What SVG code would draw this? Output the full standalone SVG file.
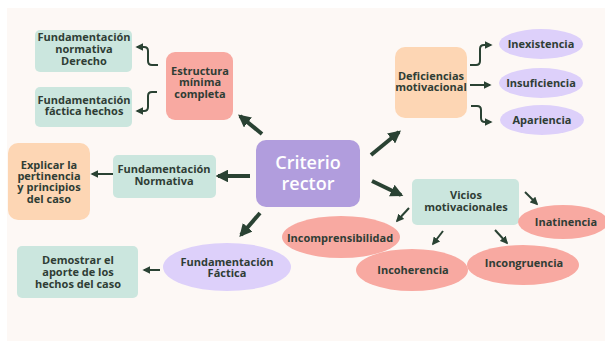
<svg xmlns="http://www.w3.org/2000/svg" width="605" height="343" viewBox="0 0 605 343">
<defs>
<marker id="ah" viewBox="0 0 10 10" refX="8" refY="5" markerWidth="3.2" markerHeight="3.2" orient="auto" markerUnits="strokeWidth"><path d="M0,0 L10,5 L0,10 Z" fill="#2a4233"/></marker>
<marker id="as" viewBox="0 0 10 10" refX="8" refY="5" markerWidth="4" markerHeight="4" orient="auto" markerUnits="strokeWidth"><path d="M0,0 L10,5 L0,10 Z" fill="#2a4233"/></marker>
<style>
.t{font-family:"Open Sans","Liberation Sans",sans-serif;font-weight:700;font-size:11px;fill:#2f3d35;text-anchor:middle}
.w{font-family:"Open Sans","Liberation Sans",sans-serif;font-weight:600;font-size:18px;fill:#ffffff;text-anchor:middle}
.teal{fill:#cbe6de}
.pink{fill:#f8a9a1}
.orange{fill:#fdd6b4}
.lav{fill:#ddd0fa}
.thick{stroke:#2a4233;stroke-width:4;fill:none;marker-end:url(#ah)}
.thin{stroke:#2a4233;stroke-width:2;fill:none;marker-end:url(#as)}
</style>
</defs>
<rect x="0" y="0" width="605" height="343" fill="#ffffff"/>
<rect x="7" y="8" width="598" height="333" fill="#fdf8f5"/>

<g id="connectors">
<path class="thick" d="M262,134 L240,116"/>
<path class="thick" d="M371,155 L399,132"/>
<path class="thick" d="M250,176 L218,176"/>
<path class="thick" d="M260,213 L241,235"/>
<path class="thick" d="M372,181 L401,195"/>
<path class="thin" d="M118,174 L92,174"/>
<path class="thin" d="M160,270 L144,270"/>
<path class="thin" d="M158,65 L152,65 Q148,65 148,61 L148,51 Q148,47 144,47 L137,47"/>
<path class="thin" d="M157,92 L152,92 Q148,92 148,96 L148,107 Q148,111 144,111 L137,111"/>
<path class="thin" d="M470,65 L476,65 Q480,65 480,61 L480,49 Q480,45 484,45 L491,45"/>
<path class="thin" d="M470,85 L490,85"/>
<path class="thin" d="M471,106 L477,106 Q481,106 481,110 L481,118 Q481,122 485,122 L491,122"/>
<path class="thin" d="M409,208 L397,221"/>
<path class="thin" d="M443,231 L433,244"/>
<path class="thin" d="M495,230 L507,243"/>
<path class="thin" d="M525,192 L537,204"/>
</g>

<g id="criterio">
<rect x="256" y="140" width="104" height="67" rx="10" fill="#b19ddd"/>
<text class="w" x="308" y="169">Criterio</text>
<text class="w" x="308" y="190">rector</text>
</g>

<g id="estructura">
<rect x="166" y="52" width="67" height="68" rx="9" class="pink"/>
<text class="t" x="200" y="75">Estructura</text>
<text class="t" x="200" y="86">mínima</text>
<text class="t" x="200" y="98">completa</text>
</g>

<g id="fund-normativa-derecho">
<rect x="35" y="30" width="97" height="42" rx="5" class="teal"/>
<text class="t" x="84" y="41">Fundamentación</text>
<text class="t" x="84" y="53">normativa</text>
<text class="t" x="84" y="65">Derecho</text>
</g>

<g id="fund-factica-hechos">
<rect x="35" y="87" width="97" height="40" rx="5" class="teal"/>
<text class="t" x="84" y="104">Fundamentación</text>
<text class="t" x="84" y="115">fáctica hechos</text>
</g>

<g id="explicar">
<rect x="8" y="143" width="82" height="77" rx="10" class="orange"/>
<text class="t" x="49" y="169">Explicar la</text>
<text class="t" x="49" y="180">pertinencia</text>
<text class="t" x="49" y="191">y principios</text>
<text class="t" x="49" y="203">del caso</text>
</g>

<g id="fund-normativa">
<rect x="113" y="155" width="103" height="43" rx="5" class="teal"/>
<text class="t" x="164" y="173">Fundamentación</text>
<text class="t" x="164" y="185">Normativa</text>
</g>

<g id="demostrar">
<rect x="17" y="246" width="121" height="52" rx="5" class="teal"/>
<text class="t" x="78" y="264">Demostrar el</text>
<text class="t" x="78" y="276">aporte de los</text>
<text class="t" x="78" y="288">hechos del caso</text>
</g>

<g id="fund-factica">
<ellipse cx="227" cy="267" rx="64" ry="24" class="lav"/>
<text class="t" x="227" y="266">Fundamentación</text>
<text class="t" x="227" y="277">Fáctica</text>
</g>

<g id="deficiencias">
<rect x="395" y="47" width="72" height="71" rx="10" class="orange"/>
<text class="t" x="431" y="80">Deficiencias</text>
<text class="t" x="431" y="91">motivacional</text>
</g>

<g id="inexistencia">
<ellipse cx="541" cy="44" rx="42" ry="15" class="lav"/>
<text class="t" x="541" y="48">Inexistencia</text>
</g>
<g id="insuficiencia">
<ellipse cx="541" cy="83" rx="42" ry="15" class="lav"/>
<text class="t" x="541" y="87">Insuficiencia</text>
</g>
<g id="apariencia">
<ellipse cx="542" cy="120" rx="42" ry="15" class="lav"/>
<text class="t" x="542" y="124">Apariencia</text>
</g>

<g id="vicios">
<rect x="412" y="179" width="107" height="46" rx="5" class="teal"/>
<text class="t" x="466" y="199">Vicios</text>
<text class="t" x="466" y="211">motivacionales</text>
</g>

<g id="inatinencia">
<ellipse cx="563" cy="222" rx="45" ry="17" class="pink"/>
<text class="t" x="566" y="226">Inatinencia</text>
</g>
<g id="incomprensibilidad">
<ellipse cx="341" cy="237" rx="59" ry="21" class="pink"/>
<text class="t" x="340" y="242">Incomprensibilidad</text>
</g>
<g id="incoherencia">
<ellipse cx="412" cy="270" rx="56" ry="21" class="pink"/>
<text class="t" x="413" y="274">Incoherencia</text>
</g>
<g id="incongruencia">
<ellipse cx="523" cy="265" rx="56" ry="20" class="pink"/>
<text class="t" x="524" y="267">Incongruencia</text>
</g>
</svg>
